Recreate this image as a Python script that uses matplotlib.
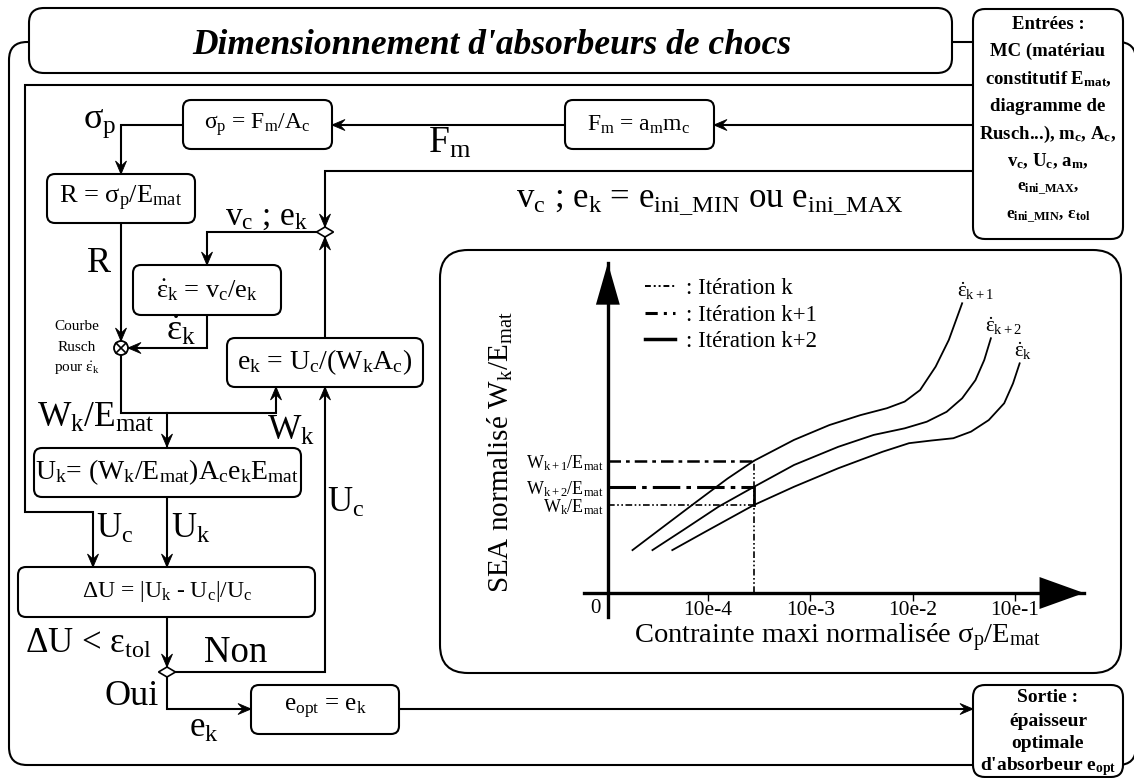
import numpy as np
import matplotlib
matplotlib.use('Agg')
import matplotlib.pyplot as plt
from matplotlib.patches import FancyBboxPatch, Polygon, Circle
from matplotlib.lines import Line2D
from matplotlib.ticker import NullLocator

plt.rcParams['font.family'] = ['Liberation Serif', 'DejaVu Serif']
plt.rcParams['mathtext.fontset'] = 'custom'
plt.rcParams['mathtext.rm'] = 'Liberation Serif'
plt.rcParams['mathtext.it'] = 'Liberation Serif:italic'
plt.rcParams['mathtext.bf'] = 'Liberation Serif:bold'

# ---- data of the inset chart (log10 of sigma_p/E_mat, normalised SEA) ----
log_sig_k1 = [-3.738, -3.457, -3.111, -2.808, -2.549, -2.159, -1.813, -1.510,
              -1.251, -1.078, -0.927, -0.775, -0.646, -0.516]
sea_k1 = [1.30, 1.96, 2.77, 3.47, 4.01, 4.64, 5.09, 5.39, 5.60, 5.80, 6.15,
          6.86, 7.67, 8.78]
log_sig_k2 = [-3.543, -3.241, -2.895, -2.549, -2.159, -1.727, -1.381, -1.078,
              -0.862, -0.668, -0.516, -0.386, -0.300, -0.235]
sea_k2 = [1.30, 1.91, 2.62, 3.22, 3.88, 4.43, 4.79, 4.99, 5.19, 5.49, 5.90,
          6.45, 7.06, 7.72]
log_sig_k = [-3.349, -3.024, -2.549, -2.159, -1.727, -1.294, -1.035, -0.818,
             -0.602, -0.429, -0.256, -0.105, -0.019, 0.046]
sea_k = [1.30, 1.86, 2.67, 3.22, 3.78, 4.28, 4.54, 4.62, 4.69, 4.89, 5.24,
         5.75, 6.35, 6.96]
curve_names = [r'$\dot{\mathrm{ε}}_{\mathrm{k+1}}$',
               r'$\dot{\mathrm{ε}}_{\mathrm{k+2}}$',
               r'$\dot{\mathrm{ε}}_{\mathrm{k}}$']

sigma_iter = 2.82e-3          # contrainte de l'itération
W_levels = [2.67, 3.22, 4.01]  # k, k+2, k+1
W_names = [r'W$_\mathrm{k}$/E$_\mathrm{mat}$',
           r'W$_\mathrm{k+2}$/E$_\mathrm{mat}$',
           r'W$_\mathrm{k+1}$/E$_\mathrm{mat}$']
tick_pos = [1e-3, 1e-2, 1e-1, 1.0]
tick_labels = ['10e-4', '10e-3', '10e-2', '10e-1']
legend_labels = [': Itération k', ': Itération k+1', ': Itération k+2']

entrees_lines = ['Entrées :', 'MC (matériau', r'constitutif E$_\mathbf{mat}$,',
                 'diagramme de', r'Rusch...), m$_\mathbf{c}$, A$_\mathbf{c}$,',
                 r'v$_\mathbf{c}$, U$_\mathbf{c}$, a$_\mathbf{m}$,',
                 r'e$_\mathbf{ini\_MAX}$,',
                 r'e$_\mathbf{ini\_MIN}$, $\mathbf{\epsilon}_\mathbf{tol}$']
sortie_lines = ['Sortie :', 'épaisseur', 'optimale',
                r"d'absorbeur e$_\mathbf{opt}$"]

W, H = 1134, 778
fig = plt.figure(figsize=(W / 100, H / 100), dpi=100)
ax = fig.add_axes([0, 0, 1, 1])
ax.set_xlim(0, W)
ax.set_ylim(H, 0)
ax.axis('off')

LW = 1.5
EPS = r'$\dot{\mathrm{ε}}_\mathrm{k}$'


def box(x0, y0, x1, y1, r=8, lw=LW, z=3):
    ax.add_patch(FancyBboxPatch((x0, y0), x1 - x0, y1 - y0,
                                boxstyle=f'round,pad=0,rounding_size={r}',
                                fc='white', ec='black', lw=lw, zorder=z))


def head(x, y, dx, dy, L=13, Wd=11):
    nx, ny = -dy, dx
    pts = [(x, y),
           (x - L * dx + Wd / 2 * nx, y - L * dy + Wd / 2 * ny),
           (x - 0.6 * L * dx, y - 0.6 * L * dy),
           (x - L * dx - Wd / 2 * nx, y - L * dy - Wd / 2 * ny)]
    ax.add_patch(Polygon(pts, closed=True, fc='black', ec='black', lw=0.6, zorder=5))


def path(pts, arrow=True):
    xs, ys = zip(*pts)
    ax.plot(xs, ys, color='black', lw=LW, zorder=2, solid_joinstyle='miter')
    if arrow:
        (xa, ya), (xb, yb) = pts[-2], pts[-1]
        d = np.hypot(xb - xa, yb - ya)
        head(xb, yb, (xb - xa) / d, (yb - ya) / d)


def diamond(x, y, w=17, h=10):
    ax.add_patch(Polygon([(x - w / 2, y), (x, y - h / 2), (x + w / 2, y), (x, y + h / 2)],
                         closed=True, fc='white', ec='black', lw=1.2, zorder=4))


def txt(x, y, s, size, ha='left', va='baseline', **kw):
    ax.text(x, y, s, fontsize=size, ha=ha, va=va, zorder=6, **kw)


# outer frame and title
box(9, 42, 1136, 765, r=18, z=1)
box(29, 8, 952, 73, r=15)
txt(492, 54, "Dimensionnement d'absorbeurs de chocs", 25.5, ha='center',
    fontweight='bold', fontstyle='italic')

# inputs / outputs
box(973, 9, 1123, 239, r=12)
for i, s in enumerate(entrees_lines):
    txt(1048, 24 + i * 27.5, s, 13.5 if i < 6 else 12.5, ha='center', va='center',
        fontweight='bold')
box(973, 685, 1123, 777, r=12)
for i, s in enumerate(sortie_lines):
    txt(1048, 698 + i * 23, s, 14, ha='center', va='center', fontweight='bold')

# connections
path([(973, 85), (25, 85), (25, 512), (93, 512), (93, 567)])
path([(973, 125), (714, 125)])
path([(565, 125), (332, 125)])
path([(183, 125), (121, 125), (121, 174)])
path([(121, 223), (121, 341)])
path([(207, 315), (207, 348), (128, 348)])
path([(121, 355), (121, 413), (276, 413), (276, 387)])
path([(167, 413), (167, 447)])
path([(167, 497), (167, 567)])
path([(973, 171), (325, 171), (325, 227)])
path([(316, 232), (207, 232), (207, 265)])
path([(325, 338), (325, 237)])
path([(167, 617), (167, 667)])
path([(176, 672), (325, 672), (325, 387)])
path([(167, 677), (167, 709), (251, 709)])
path([(399, 709), (973, 709)])
diamond(325, 232)
diamond(167, 672)

# Rusch node
ax.add_patch(Circle((121, 348), 7, fc='white', ec='black', lw=1.3, zorder=4))
ax.plot([116, 126], [343, 353], color='black', lw=1.2, zorder=5)
ax.plot([116, 126], [353, 343], color='black', lw=1.2, zorder=5)

# process boxes
box(565, 100, 714, 149)
txt(639, 125, r'F$_\mathrm{m}$ = a$_\mathrm{m}$m$_\mathrm{c}$', 17, ha='center', va='center')
box(183, 100, 332, 149)
txt(257, 125, r'σ$_\mathrm{p}$ = F$_\mathrm{m}$/A$_\mathrm{c}$', 17, ha='center', va='center')
box(47, 174, 195, 223)
txt(121, 198, r'R = σ$_\mathrm{p}$/E$_\mathrm{mat}$', 19, ha='center', va='center')
box(133, 265, 281, 315)
txt(207, 290, EPS + r' = v$_\mathrm{c}$/e$_\mathrm{k}$', 19, ha='center', va='center')
box(227, 338, 423, 387)
txt(325, 362, r'e$_\mathrm{k}$ = U$_\mathrm{c}$/(W$_\mathrm{k}$A$_\mathrm{c}$)', 20,
    ha='center', va='center')
box(34, 448, 301, 497)
txt(167, 472, r'U$_\mathrm{k}$= (W$_\mathrm{k}$/E$_\mathrm{mat}$)A$_\mathrm{c}$e$_\mathrm{k}$E$_\mathrm{mat}$',
    20, ha='center', va='center')
box(18, 567, 315, 617)
txt(167, 592, r'ΔU = |U$_\mathrm{k}$ - U$_\mathrm{c}$|/U$_\mathrm{c}$', 17, ha='center', va='center')
box(251, 685, 399, 734)
txt(325, 709, r'e$_\mathrm{opt}$ = e$_\mathrm{k}$', 18, ha='center', va='center')

# flow labels
txt(83, 128, r'σ$_\mathrm{p}$', 26)
txt(87, 272, 'R', 26)
txt(428, 153, r'F$_\mathrm{m}$', 27)
txt(308, 225, r'v$_\mathrm{c}$ ; e$_\mathrm{k}$', 24, ha='right')
txt(516, 207, r'v$_\mathrm{c}$ ; e$_\mathrm{k}$ = e$_\mathrm{ini\_MIN}$ ou e$_\mathrm{ini\_MAX}$', 25)
txt(166, 340, EPS, 26)
for i, s in enumerate(['Courbe', 'Rusch', 'pour ' + EPS]):
    txt(77, 330 + i * 21, s, 11, ha='center')
txt(37, 427, r'W$_\mathrm{k}$/E$_\mathrm{mat}$', 25.5)
txt(267, 440, r'W$_\mathrm{k}$', 25.5)
txt(96, 538, r'U$_\mathrm{c}$', 25)
txt(171, 538, r'U$_\mathrm{k}$', 25)
txt(327, 512, r'U$_\mathrm{c}$', 25)
txt(25, 653, r'ΔU < $\mathrm{\epsilon}_\mathrm{tol}$', 25)
txt(204, 662, 'Non', 26.5)
txt(104, 705, 'Oui', 26)
txt(189, 737, r'e$_\mathrm{k}$', 25)

# ---- inset chart ----
box(440, 250, 1121, 673, r=28)
ax.text(838, 638, r'Contrainte maxi normalisée σ$_\mathrm{p}$/E$_\mathrm{mat}$', fontsize=20.5,
        ha='center', va='center', zorder=6)
ax.text(500, 452, r'SEA normalisé W$_\mathrm{k}$/E$_\mathrm{mat}$', fontsize=21,
        ha='center', va='center', rotation=90, zorder=6)

x_origin = 1.05e-4
ax2 = fig.add_axes([584 / W, (H - 617) / H, 500 / W, 354 / H])
ax2.patch.set_alpha(0)
ax2.set_xscale('log')
ax2.set_xlim(10 ** -4.212, 10 ** 0.675)
ax2.set_ylim(-0.727, 10)
for s in ['top', 'right']:
    ax2.spines[s].set_visible(False)
ax2.spines['bottom'].set_position(('data', 0))
ax2.spines['left'].set_position(('data', x_origin))
for s in ['bottom', 'left']:
    ax2.spines[s].set_linewidth(2.4)
ax2.set_xticks(tick_pos, tick_labels)
ax2.xaxis.set_minor_locator(NullLocator())
ax2.tick_params(axis='x', length=6, width=1, labelsize=15.5, pad=0)
ax2.set_yticks(W_levels, W_names)
ax2.tick_params(axis='y', length=0, labelsize=13, pad=3)
ax2.annotate('', xy=(1, 0), xycoords=('axes fraction', 'data'), xytext=(0.85, 0),
             textcoords=('axes fraction', 'data'),
             arrowprops=dict(arrowstyle='-|>,head_length=3.2,head_width=1.15',
                             color='black', lw=0, shrinkA=0, shrinkB=0))
ax2.annotate('', xy=(x_origin, 1), xycoords=('data', 'axes fraction'), xytext=(x_origin, 0.85),
             textcoords=('data', 'axes fraction'),
             arrowprops=dict(arrowstyle='-|>,head_length=3.0,head_width=0.86',
                             color='black', lw=0, shrinkA=0, shrinkB=0))
ax2.annotate('0', (x_origin, 0), xytext=(-5, -4), textcoords='offset points',
             fontsize=15, ha='right', va='top')

for xs, ys, name in zip([log_sig_k1, log_sig_k2, log_sig_k], [sea_k1, sea_k2, sea_k], curve_names):
    sig = 10 ** np.array(xs)
    ax2.plot(sig, ys, color='black', lw=1.3)
    ax2.annotate(name, (sig[-1], ys[-1]), xytext=(-4, 1), textcoords='offset points',
                 fontsize=15, ha='left', va='bottom')

styles = [dict(ls=(0, (4, 1.5, 1, 1.5, 1, 1.5)), lw=1.2),
          dict(ls=(0, (9, 2, 1.5, 2)), lw=2.2),
          dict(ls=(0, (5, 2, 1.5, 2)), lw=1.8)]
for lev, st in zip(W_levels, styles):
    ax2.plot([x_origin, sigma_iter], [lev, lev], color='black', **st)
ax2.plot([sigma_iter, sigma_iter], [0, W_levels[2]], color='black', **styles[0])
ax2.plot([sigma_iter, sigma_iter], [W_levels[0], W_levels[1]], color='black', lw=2)

handles = [Line2D([], [], color='black', ls=(0, (3, 1.5, 1, 1.5, 1, 1.5)), lw=1.4),
           Line2D([], [], color='black', ls=(0, (4, 2, 1, 2)), lw=2.2),
           Line2D([], [], color='black', lw=2.5)]
ax2.legend(handles, legend_labels, loc='upper left', bbox_to_anchor=(0.085, 1.01),
           frameon=False, fontsize=16.5, handlelength=1.3, handletextpad=0.5,
           labelspacing=0.25, borderpad=0.3)

fig.savefig('out.png', dpi=100)
